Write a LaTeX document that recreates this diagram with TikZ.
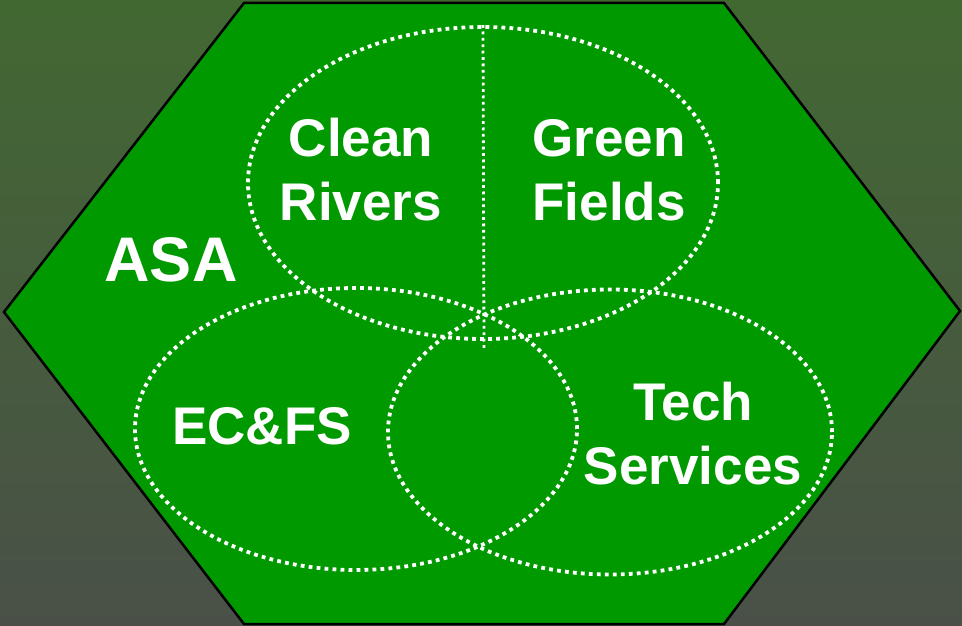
\documentclass[tikz,border=0pt]{standalone}
\usepackage{fontspec}
\setmainfont{Liberation Sans}
\usetikzlibrary{shapes.geometric}
\definecolor{bgtop}{RGB}{66,104,50}
\definecolor{bgbot}{RGB}{74,80,72}
\definecolor{hexgreen}{RGB}{0,153,0}
\tikzset{
  dotline/.style={draw=white, line width=3.8pt, dash pattern=on 3.8pt off 4.2pt},
  venn/.style={ellipse, dotline, inner sep=0pt},
  lbl/.style={text=white, font=\fontsize{53}{64}\selectfont\bfseries, align=center, inner sep=0pt},
}
\begin{document}
\begin{tikzpicture}[x=1pt,y=-1pt]
\shade[top color=bgtop, bottom color=bgbot] (0,0) rectangle (962,626);
\useasboundingbox (0,0) rectangle (962,626);
\coordinate (h1) at (244,3);
\coordinate (h2) at (724,3);
\coordinate (h3) at (960,311);
\coordinate (h4) at (724,624);
\coordinate (h5) at (244,624);
\coordinate (h6) at (4,312);
\draw[fill=hexgreen, draw=black, line width=2.5pt, line join=miter] (h1) -- (h2) -- (h3) -- (h4) -- (h5) -- (h6) -- cycle;
\node[venn, minimum width=470pt, minimum height=312pt] (top) at (483,183) {};
\node[venn, minimum width=442pt, minimum height=282pt] (ecfs) at (356,429) {};
\node[venn, minimum width=444pt, minimum height=285pt] (tech) at (610,432) {};
\coordinate (vend) at (484,350);
\draw[draw=white, line width=2.8pt, dash pattern=on 2.8pt off 3.6pt] (top.north) -- (vend);
\node[lbl] (cr) at (361,170) {Clean\\Rivers};
\node[lbl] (gf) at (609,170) {Green\\Fields};
\node[lbl, font=\fontsize{63}{70}\selectfont\bfseries] (asa) at (171,260) {ASA};
\node[lbl] (ec) at (262,426) {EC\&FS};
\node[lbl] (ts) at (693,434) {Tech\\Services};
\end{tikzpicture}
\end{document}
